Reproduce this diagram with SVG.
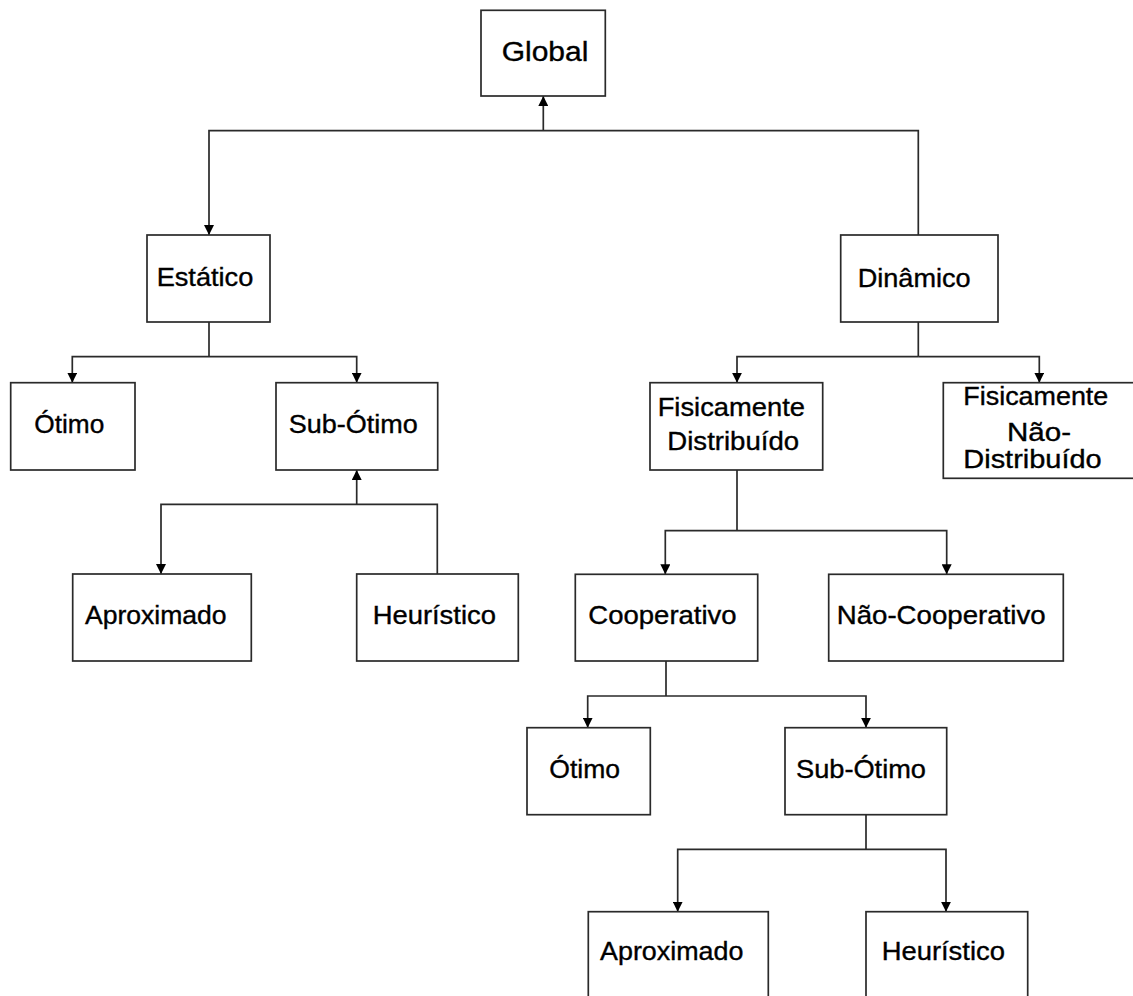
<svg xmlns="http://www.w3.org/2000/svg" width="1133" height="996" viewBox="0 0 1133 996">
<style>
.box{fill:#fff;stroke:#2a2a2a;stroke-width:1.7}
.lbl{font-family:"Liberation Sans",Arial,sans-serif;font-size:25px;fill:#000;stroke:#000;stroke-width:0.35;text-anchor:middle}
.big{font-size:27px}
.ln{fill:none;stroke:#2a2a2a;stroke-width:1.7}
</style>
<defs>
<marker id="arr" viewBox="0 0 10 10" refX="10" refY="5" markerWidth="10" markerHeight="10" markerUnits="userSpaceOnUse" orient="auto">
<path d="M0,0 L10,5 L0,10 Z" fill="#000"/>
</marker>
</defs>
<rect width="1133" height="996" fill="#fff"/>
<g id="connectors">
<line class="ln" x1="543.3" y1="130.7" x2="543.3" y2="96" marker-end="url(#arr)"/>
<polyline class="ln" points="918.3,235 918.3,130.7 209,130.7 209,235" marker-end="url(#arr)"/>
<polyline class="ln" points="209,322 209,356.7"/>
<polyline class="ln" points="209,356.7 72.3,356.7 72.3,382.7" marker-end="url(#arr)"/>
<polyline class="ln" points="209,356.7 356.7,356.7 356.7,382.7" marker-end="url(#arr)"/>
<line class="ln" x1="356.7" y1="504.3" x2="356.7" y2="470" marker-end="url(#arr)"/>
<polyline class="ln" points="437.3,574 437.3,504.3 161,504.3 161,574" marker-end="url(#arr)"/>
<polyline class="ln" points="918.3,322 918.3,356.7"/>
<polyline class="ln" points="918.3,356.7 737,356.7 737,382.7" marker-end="url(#arr)"/>
<polyline class="ln" points="918.3,356.7 1039.3,356.7 1039.3,382.7" marker-end="url(#arr)"/>
<polyline class="ln" points="737,470 737,530.7"/>
<polyline class="ln" points="737,530.7 665.3,530.7 665.3,574.3" marker-end="url(#arr)"/>
<polyline class="ln" points="737,530.7 946.7,530.7 946.7,574.3" marker-end="url(#arr)"/>
<polyline class="ln" points="666,661 666,696"/>
<polyline class="ln" points="666,696 587.7,696 587.7,727.7" marker-end="url(#arr)"/>
<polyline class="ln" points="666,696 866,696 866,727.7" marker-end="url(#arr)"/>
<polyline class="ln" points="866,814.7 866,849.3"/>
<polyline class="ln" points="866,849.3 677.7,849.3 677.7,911.7" marker-end="url(#arr)"/>
<polyline class="ln" points="866,849.3 946,849.3 946,911.7" marker-end="url(#arr)"/>
</g>
<g id="global"><rect class="box" x="481" y="10.3" width="124.3" height="85.7"/><text class="lbl big" x="545" y="60.7" textLength="86.7" lengthAdjust="spacingAndGlyphs">Global</text></g>
<g id="estatico"><rect class="box" x="147" y="235" width="123" height="87"/><text class="lbl" x="205" y="285.7" textLength="96.7" lengthAdjust="spacingAndGlyphs">Estático</text></g>
<g id="dinamico"><rect class="box" x="840.7" y="235" width="157.3" height="87"/><text class="lbl" x="914.2" y="286.7" textLength="113" lengthAdjust="spacingAndGlyphs">Dinâmico</text></g>
<g id="otimo1"><rect class="box" x="10.7" y="382.7" width="124.3" height="87.3"/><text class="lbl" x="69.3" y="433.3" textLength="70" lengthAdjust="spacingAndGlyphs">Ótimo</text></g>
<g id="subotimo1"><rect class="box" x="276" y="382.7" width="161.7" height="87.3"/><text class="lbl" x="353.2" y="433.3" textLength="129" lengthAdjust="spacingAndGlyphs">Sub-Ótimo</text></g>
<g id="aproximado1"><rect class="box" x="72.7" y="574" width="178.6" height="87"/><text class="lbl" x="155.8" y="624" textLength="141.7" lengthAdjust="spacingAndGlyphs">Aproximado</text></g>
<g id="heuristico1"><rect class="box" x="356.7" y="574" width="161.6" height="87"/><text class="lbl" x="434.3" y="624" textLength="123.3" lengthAdjust="spacingAndGlyphs">Heurístico</text></g>
<g id="fisdist"><rect class="box" x="650" y="382.7" width="172.7" height="87.3"/><text class="lbl" x="731.3" y="416" textLength="147.3" lengthAdjust="spacingAndGlyphs">Fisicamente</text><text class="lbl" x="733.2" y="450" textLength="131.7" lengthAdjust="spacingAndGlyphs">Distribuído</text></g>
<g id="fisnaodist"><rect class="box" x="943.3" y="382.7" width="200" height="95.6"/><text class="lbl" x="1035.8" y="405" textLength="145" lengthAdjust="spacingAndGlyphs">Fisicamente</text><text class="lbl" x="1039" y="440.7" textLength="64" lengthAdjust="spacingAndGlyphs">Não-</text><text class="lbl" x="1032.5" y="468.3" textLength="138.4" lengthAdjust="spacingAndGlyphs">Distribuído</text></g>
<g id="cooperativo"><rect class="box" x="575.3" y="574.3" width="182.4" height="86.7"/><text class="lbl" x="662.5" y="624.3" textLength="148.3" lengthAdjust="spacingAndGlyphs">Cooperativo</text></g>
<g id="naocooperativo"><rect class="box" x="828.7" y="574.3" width="234.6" height="86.7"/><text class="lbl" x="941.2" y="624.3" textLength="209" lengthAdjust="spacingAndGlyphs">Não-Cooperativo</text></g>
<g id="otimo2"><rect class="box" x="527" y="727.7" width="123.3" height="87"/><text class="lbl" x="584.7" y="778.3" textLength="70.7" lengthAdjust="spacingAndGlyphs">Ótimo</text></g>
<g id="subotimo2"><rect class="box" x="785" y="727.7" width="161.7" height="87"/><text class="lbl" x="861" y="778.3" textLength="130" lengthAdjust="spacingAndGlyphs">Sub-Ótimo</text></g>
<g id="aproximado2"><rect class="box" x="588.3" y="911.7" width="180" height="100"/><text class="lbl" x="671.7" y="960" textLength="143.3" lengthAdjust="spacingAndGlyphs">Aproximado</text></g>
<g id="heuristico2"><rect class="box" x="866" y="911.7" width="161.7" height="100"/><text class="lbl" x="943.3" y="960" textLength="123.3" lengthAdjust="spacingAndGlyphs">Heurístico</text></g>
</svg>
